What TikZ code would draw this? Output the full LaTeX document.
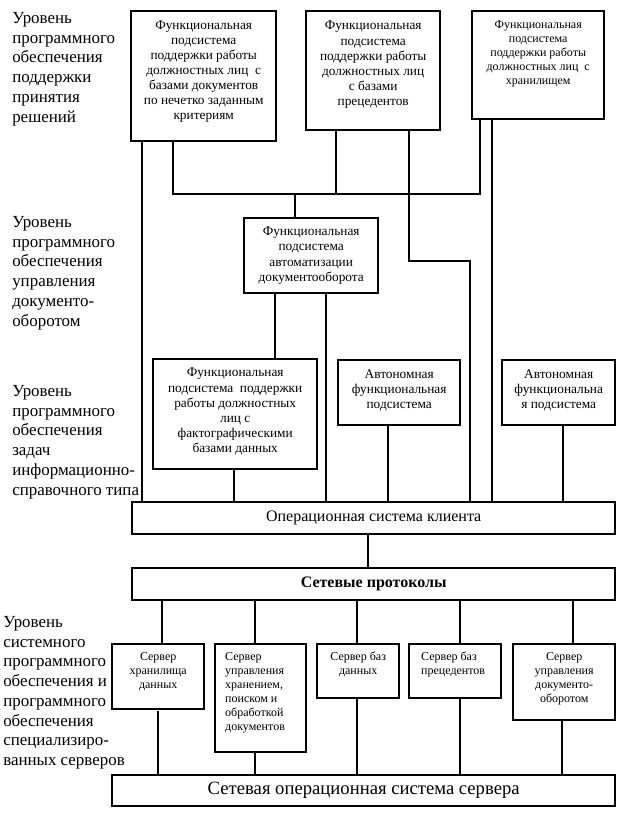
\documentclass[tikz,border=0pt]{standalone}
\usepackage{fontspec}
\setmainfont{Liberation Serif}
\newlength{\pxu}\setlength{\pxu}{0.75pt}
% text block at the top of a frame: [align]{width}{height}{top pad}{lines}
\newcommand{\btxt}[5][\centering]{\parbox[t][#3\pxu][t]{#2\pxu}{#1\vspace*{#4\pxu}#5\par}}

\begin{document}
\begin{tikzpicture}[x=0.75pt, y=-0.75pt,
  blk/.style={draw, line width=1.8pt, inner sep=0pt, anchor=north west,
              font=\fontsize{10}{11.2}\selectfont},
  srv/.style={blk, font=\fontsize{9}{10.5}\selectfont},
  strip/.style={draw, line width=1.8pt, inner sep=0pt, anchor=north west,
                minimum height=32*0.75pt},
  lvl/.style={anchor=north west, align=left, inner sep=0pt,
              font=\fontsize{12.7}{14.8}\selectfont},
  lead/.style={line width=2pt},
  leadlt/.style={line width=1.4pt},
]
\useasboundingbox (0,0) rectangle (625,824);

% ===== level captions =====
\node[lvl] (lvA) at (12,12) {Уровень\\программного\\обеспечения\\поддержки\\принятия\\решений};
\node[lvl] (lvB) at (12,216) {Уровень\\программного\\обеспечения\\управления\\документо-\\оборотом};
\node[lvl] (lvC) at (12,385) {Уровень\\программного\\обеспечения\\задач\\информационно-\\справочного типа};
\node[lvl] (lvD) at (3,616) {Уровень\\системного\\программного\\обеспечения и\\программного\\обеспечения\\специализиро-\\ванных серверов};

% ===== decision support level =====
\node[blk] (dss1) at (130,10) {\btxt{145}{130}{10}{Функциональная\\подсистема\\поддержки работы\\должностных лиц\ \ с\\базами документов\\по нечетко заданным\\критериям}};
\node[blk, font=\fontsize{10}{11.4}\selectfont] (dss2) at (305,10) {\btxt{134}{119}{10}{Функциональная\\подсистема\\поддержки работы\\должностных лиц\\с базами\\прецедентов}};
\node[blk, font=\fontsize{9}{10.6}\selectfont] (dss3) at (471,10) {\btxt{132}{108}{9}{Функциональная\\подсистема\\поддержки работы\\должностных лиц\ \ с\\хранилищем}};

% ===== document flow level =====
\node[blk, font=\fontsize{10}{11.3}\selectfont] (edm) at (243,217) {\btxt{134}{75}{9}{Функциональная\\подсистема\\автоматизации\\документооборота}};

% ===== reference tasks level =====
\node[blk, font=\fontsize{10}{11.4}\selectfont] (fact) at (152,358) {\btxt{164}{110}{9}{Функциональная\\подсистема\ \ поддержки\\работы должностных\\лиц с\\фактографическими\\базами данных}};
\node[blk, font=\fontsize{10}{11.3}\selectfont] (auto1) at (337,359) {\btxt{122}{65}{9}{Автономная\\функциональная\\подсистема}};
\node[blk, font=\fontsize{10}{11.3}\selectfont] (auto2) at (501,359) {\btxt{113}{65}{9}{Автономная\\функциональна\\я подсистема}};

% ===== client OS + protocols =====
\node[strip, minimum width=483*0.75pt, font=\fontsize{12}{14}\selectfont] (osc) at (131,501) {Операционная система клиента};
\node[strip, minimum width=483*0.75pt, font=\bfseries\fontsize{12}{14}\selectfont] (proto) at (131,567) {Сетевые протоколы};

% ===== servers =====
\node[srv] (srv1) at (111,643) {\btxt{92}{65}{8}{Сервер\\хранилища\\данных}};
\node[srv] (srv2) at (214,643) {\btxt[\raggedright\leftskip=7.5pt]{91}{108}{8}{Сервер\\управления\\хранением,\\поиском и\\обработкой\\документов}};
\node[srv] (srv3) at (316,643) {\btxt{82}{54}{8}{Сервер баз\\данных}};
\node[srv] (srv4) at (408,643) {\btxt[\raggedright\leftskip=9pt]{92}{54}{8}{Сервер баз\\прецедентов}};
\node[srv] (srv5) at (512,643) {\btxt{102}{76}{8}{Сервер\\управления\\документо-\\оборотом}};
\node[strip, minimum width=503*0.75pt, minimum height=31*0.75pt, font=\fontsize{14}{16}\selectfont] (oss) at (111,774) {Сетевая операционная система сервера};

% ===== connectors =====
\coordinate (busL) at (173,194);
\coordinate (busR) at (480,194);
\coordinate (jog) at (409,261);
\draw[lead] (dss1.south -| busL) -- (busL) -- (busR) -- (dss3.south -| busR);
\draw[lead] (dss2.south -| 336,0) -- (busL -| 336,0);
\draw[lead] (busL -| 295,0) -- (edm.north -| 295,0);
\draw[leadlt] (dss2.south -| jog) -- (jog) -- (jog -| 470,0) -- (osc.north -| 470,0);
\foreach \x/\a/\b in {142/dss1/osc, 492/dss3/osc, 275/edm/fact, 326/edm/osc, 234/fact/osc,
    368/osc/proto, 162/proto/srv1, 255/proto/srv2, 255/srv2/oss, 357/proto/srv3, 357/srv3/oss,
    460/proto/srv4, 460/srv4/oss, 573/proto/srv5, 562/srv5/oss}
  \draw[lead] (\a.south -| \x,0) -- (\b.north -| \x,0);
\foreach \x/\a in {388/auto1, 563/auto2}
  \draw[leadlt] (\a.south -| \x,0) -- (osc.north -| \x,0);
\coordinate (s1tail) at (158,711);
\draw[lead] (s1tail) -- (oss.north -| s1tail);
\end{tikzpicture}
\end{document}
